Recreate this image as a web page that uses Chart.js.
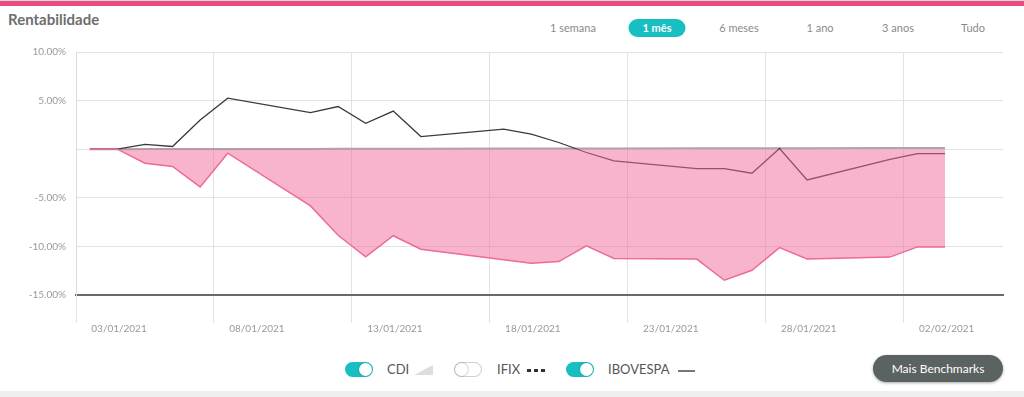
<!DOCTYPE html>
<html>
<head>
<meta charset="utf-8">
<script src="https://cdn.jsdelivr.net/npm/chart.js@4"></script>
<style>
  html, body { margin: 0; padding: 0; background: #fff; width: 1024px; height: 397px; overflow: hidden; font-family: Lato, "Open Sans", sans-serif; }
  .topline { position: absolute; left: 0; top: 0; width: 1024px; height: 1px; background: #d8d8d8; }
  .topbar { position: absolute; left: 0; top: 1px; width: 1024px; height: 5px; background: #ea4c82; }
  .title { position: absolute; left: 8px; top: 10px; font-size: 15px; font-weight: bold; color: #6e6e6e; }
  .periods span { position: absolute; top: 19px; font-size: 11px; color: #8a8a8a; transform: translateX(-50%); line-height: 18px; }
  .periods span.on { background: #17bfc2; color: #fff; font-weight: bold; border-radius: 10px; width: 57px; text-align: center; }
  #wrap { position: absolute; left: 0; top: 0; width: 1024px; height: 340px; }
  .legend { position: absolute; top: 362px; left: 0; font-size: 13px; color: #555; }
  .sw { position: absolute; top: 0; width: 28px; height: 15px; border-radius: 8px; background: #17bfc2; }
  .sw i { position: absolute; top: 1px; right: 1px; width: 13px; height: 13px; border-radius: 50%; background: #fff; box-shadow: 0 0 2px rgba(0,0,0,0.3); }
  .sw.off { background: #fff; box-shadow: inset 0 0 0 1px #d0d0d0; }
  .sw.off i { left: 1px; right: auto; background: #fff; box-shadow: 0 0 2px rgba(0,0,0,0.45); }
  .lbl { position: absolute; top: -1px; line-height: 17px; }
  .tri { position: absolute; top: 3px; width: 0; height: 0; border-left: 19px solid transparent; border-bottom: 10px solid #ddd; }
  .dash { position: absolute; top: 7px; width: 4px; height: 3px; background: #333; }
  .ln { position: absolute; top: 8px; width: 17px; height: 2px; background: #777; }
  .more { position: absolute; left: 873px; top: 355px; width: 130px; height: 27px; border-radius: 14px; background: #5b6262; color: #fff; font-size: 12px; text-align: center; line-height: 27px; box-shadow: 0 1px 3px rgba(0,0,0,0.35); }
  .foot { position: absolute; left: 0; top: 391px; width: 1024px; height: 6px; background: #efefef; }
</style>
</head>
<body>
<div class="topline"></div>
<div class="topbar"></div>
<div class="title">Rentabilidade</div>
<div class="periods">
  <span style="left:573px">1 semana</span>
  <span class="on" style="left:657px">1 mês</span>
  <span style="left:739px">6 meses</span>
  <span style="left:820px">1 ano</span>
  <span style="left:898px">3 anos</span>
  <span style="left:973px">Tudo</span>
</div>
<div id="wrap"><canvas id="rentChart"></canvas></div>
<div class="legend">
  <div class="sw" style="left:345px"><i></i></div>
  <span class="lbl" style="left:387px">CDI</span>
  <div class="tri" style="left:414px"></div>
  <div class="sw off" style="left:454px"><i></i></div>
  <span class="lbl" style="left:497px">IFIX</span>
  <div class="dash" style="left:527px"></div>
  <div class="dash" style="left:534px"></div>
  <div class="dash" style="left:541px"></div>
  <div class="sw" style="left:566px"><i></i></div>
  <span class="lbl" style="left:608px">IBOVESPA</span>
  <div class="ln" style="left:678px"></div>
</div>
<div class="more">Mais Benchmarks</div>
<div class="foot"></div>

<script>
// days since 03/01/2021 (weekends skipped)
const days = [0, 1, 2, 3, 4, 5, 8, 9, 10, 11, 12, 15, 16, 17, 18, 19, 22, 23, 24, 25, 26, 29, 30, 31];
const fundo = [0, 0, -1.44, -1.78, -3.88, -0.41, -5.83, -8.85, -11.08, -8.9, -10.29, -11.38, -11.73, -11.56, -9.95, -11.25, -11.3, -13.48, -12.45, -10.12, -11.3, -11.1, -10.05, -10.05];
const ibovespa = [0, 0, 0.5, 0.28, 3.0, 5.25, 3.77, 4.39, 2.67, 3.92, 1.3, 2.06, 1.54, 0.69, -0.34, -1.2, -1.99, -1.99, -2.47, 0.07, -3.16, -1.05, -0.45, -0.45];
const cdi = [0, 0, 0.01, 0.01, 0.02, 0.02, 0.03, 0.04, 0.04, 0.05, 0.05, 0.06, 0.07, 0.07, 0.08, 0.08, 0.09, 0.1, 0.1, 0.11, 0.11, 0.12, 0.13, 0.13];

const xTickPos = [-0.5, 4.5, 9.5, 14.5, 19.5, 24.5, 29.5];
const xTickLabels = ['03/01/2021', '08/01/2021', '13/01/2021', '18/01/2021', '23/01/2021', '28/01/2021', '02/02/2021'];

function pts(vals) {
  return vals.map(function(v, i) { return { x: days[i], y: v }; });
}

const ctx = document.getElementById('rentChart').getContext('2d');
const rentChart = new Chart(ctx, {
  type: 'line',
  data: {
    datasets: [{
      label: 'Fundo',
      data: pts(fundo),
      borderColor: '#ee6a9a',
      borderWidth: 1.5,
      backgroundColor: 'rgba(241, 105, 153, 0.5)',
      fill: 'origin',
      pointRadius: 0,
      tension: 0
    }, {
      label: 'IBOVESPA',
      data: pts(ibovespa),
      borderColor: '#3a3a3a',
      borderWidth: 1.3,
      fill: false,
      pointRadius: 0,
      tension: 0
    }, {
      label: 'CDI',
      data: pts(cdi),
      borderColor: '#a8a8a8',
      borderWidth: 2,
      fill: false,
      pointRadius: 0,
      tension: 0
    }]
  },
  options: {
    responsive: true,
    maintainAspectRatio: false,
    animation: false,
    layout: { padding: { left: 0, right: 21, top: 52, bottom: 0 } },
    plugins: { legend: { display: false }, tooltip: { enabled: false } },
    scales: {
      x: {
        type: 'linear',
        min: -0.5,
        max: 33.1,
        afterBuildTicks: function(scale) {
          scale.ticks = xTickPos.map(function(v) { return { value: v }; });
        },
        afterFit: function(scale) { scale.height = 45; },
        grid: { color: '#e2e2e2', tickLength: 28, drawTicks: true },
        border: { color: '#6a6a6a', width: 2 },
        ticks: {
          autoSkip: false,
          maxRotation: 0,
          padding: 0,
          labelOffset: 43,
          color: '#999',
          font: { family: 'Lato', size: 10 },
          callback: function(v, i) { return xTickLabels[i]; }
        }
      },
      y: {
        min: -15,
        max: 10,
        afterFit: function(scale) { scale.width = 76; },
        grid: { color: '#e2e2e2', drawTicks: false },
        border: { color: '#dcdcdc', width: 1 },
        ticks: {
          stepSize: 5,
          padding: 10,
          color: '#999',
          font: { family: 'Lato', size: 10 },
          callback: function(v) { return v === 0 ? '' : v.toFixed(2) + '%'; }
        }
      }
    }
  }
});
</script>
</body>
</html>
